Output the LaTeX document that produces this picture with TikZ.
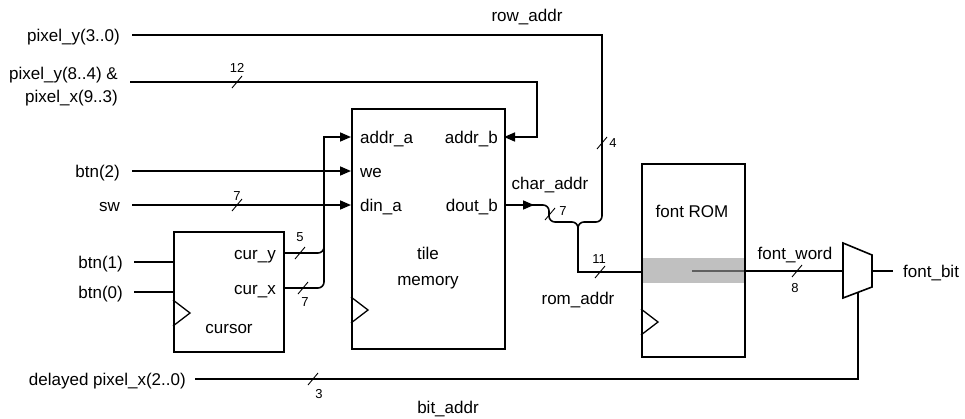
\documentclass[tikz,border=0pt]{standalone}
\usepackage{fontspec}
\setmainfont{Liberation Sans}
\usetikzlibrary{arrows.meta}
\definecolor{band}{RGB}{192,192,192}
\definecolor{inner}{RGB}{95,95,95}
\begin{document}
\begin{tikzpicture}[x=1pt,y=-1pt,
  lbl/.style={inner sep=0pt, font=\fontsize{17}{19}\selectfont, text height=12pt, text depth=0pt},
  num/.style={inner sep=0pt, font=\fontsize{13}{15}\selectfont},
  wire/.style={line width=1.6pt},
  box/.style={draw, line width=1.6pt, inner sep=0pt, anchor=north west},
  arr/.style={-{Triangle[length=11pt,width=9pt]}},
  bus/.style={line width=0.9pt},
  clk/.style={line width=1.3pt}]
\path[use as bounding box] (0,0) rectangle (965,418);

% ---------- blocks ----------
\node[box, minimum width=153pt, minimum height=240pt] (tile) at (351,108) {};
\node[box, minimum width=110pt, minimum height=120pt] (cursor) at (173,231) {};
\fill[band] (641,258) rectangle (744,283);
\node[box, minimum width=103pt, minimum height=193pt] (rom) at (641,163) {};
\draw[wire] (843,243) -- (872,255) -- (872,287) -- (843,298) -- cycle;
\coordinate (muxin) at (843,271);
\coordinate (muxout) at (872,271);
\coordinate (muxsel) at (858,292.3);

% clock triangles
\draw[clk] (351,297) -- (368,310) -- (351,323);
\draw[clk] (173,300) -- (190,313) -- (173,326);
\draw[clk] (641,309) -- (658,322) -- (641,335);

% port coordinates
\coordinate (addrA) at (351,137);
\coordinate (we) at (351,171);
\coordinate (dinA) at (351,205);
\coordinate (addrB) at (504,137);
\coordinate (doutB) at (504,205);
\coordinate (curY) at (283,253);
\coordinate (curX) at (283,288);
\coordinate (romin) at (641,272);
\coordinate (romout) at (744,271);

% ---------- block texts ----------
\node[lbl, anchor=west] (taddrA) at (360,137) {addr\_a};
\node[lbl, anchor=west] (twe) at (360,171) {we};
\node[lbl, anchor=west] (tdinA) at (360,205) {din\_a};
\node[lbl, anchor=east] (taddrB) at (498,137) {addr\_b};
\node[lbl, anchor=east] (tdoutB) at (498,205) {dout\_b};
\node[lbl] (ttile) at (428,253) {tile};
\node[lbl] (tmem) at (428,279) {memory};
\node[lbl, anchor=east] (tcury) at (276,253) {cur\_y};
\node[lbl, anchor=east] (tcurx) at (276,288) {cur\_x};
\node[lbl] (tcursor) at (229,327) {cursor};
\node[lbl] (trom) at (692,211) {font ROM};

% ---------- input labels ----------
\node[lbl, anchor=east] (lpy) at (120,35) {pixel\_y(3..0)};
\node[inner sep=0pt, font=\fontsize{17}{23}\selectfont, align=right, anchor=east] (lpx) at (118,87) {pixel\_y(8..4) \&\\pixel\_x(9..3)};
\node[lbl, anchor=east] (lb2) at (120,171) {btn(2)};
\node[lbl, anchor=east] (lsw) at (120,205) {sw};
\node[lbl, anchor=east] (lb1) at (123,262) {btn(1)};
\node[lbl, anchor=east] (lb0) at (123,292) {btn(0)};
\node[lbl, anchor=east] (ldel) at (186,379) {delayed pixel\_x(2..0)};
\node[lbl, anchor=west] (lfb) at (903,271) {font\_bit};

% ---------- signal names ----------
\node[lbl] (nrow) at (527,15) {row\_addr};
\node[lbl] (nchar) at (550,183) {char\_addr};
\node[lbl] (nrom) at (578,298) {rom\_addr};
\node[lbl] (nfw) at (795,253) {font\_word};
\node[lbl] (nbit) at (448,407) {bit\_addr};

% ---------- wires ----------
\draw[wire] ([xshift=12pt]lpy.east) -- (602,35) -- (602,200);
\draw[wire, rounded corners=6pt] (602,190) -- (602,222) -- (578,222) -- (578,245);
\draw[wire, arr] ([xshift=12pt]lpx.east |- 0,82) -- (537,82) -- (537,137) -- (addrB);
\draw[wire, arr] ([xshift=12pt]lb2.east) -- (we);
\draw[wire, arr] ([xshift=12pt]lsw.east) -- (dinA);
\draw[wire] ([xshift=11pt]lb1.east) -- (cursor.west |- lb1);
\draw[wire] ([xshift=11pt]lb0.east) -- (cursor.west |- lb0);
\draw[wire, rounded corners=6pt] (curY) -- (324,253) -- (324,235);
\draw[wire, rounded corners=6pt] (curX) -- (324,288) -- (324,262);
\draw[wire, arr] (324,272) -- (324,137) -- (addrA);
\draw[wire, arr] (doutB) -- (534,205);
\draw[wire, rounded corners=6pt] (526,205) -- (549,205) -- (549,222) -- (578,222) -- (578,245);
\draw[wire] (578,235) -- (578,272) -- (romin);
\draw[line width=1.8pt, inner] (692,271) -- (romout);
\draw[wire] (romout) -- (muxin);
\draw[wire] (muxout) -- ([xshift=-10pt]lfb.west);
\draw[wire] (muxsel) -- (858,379) -- ([xshift=9pt]ldel.east);

% ---------- bus width marks ----------
\draw[bus] (232,88) -- (242,76);  \node[num] (w12) at (237,68) {12};
\draw[bus] (232,211) -- (242,199); \node[num] (w7a) at (237,196) {7};
\draw[bus] (295,259) -- (305,247); \node[num] (w5) at (300,237) {5};
\draw[bus] (298,294) -- (308,282); \node[num] (w7b) at (305,302) {7};
\draw[bus] (597,149) -- (607,137); \node[num] (w4) at (613,143) {4};
\draw[bus] (545,220) -- (555,208); \node[num] (w7c) at (563,211) {7};
\draw[bus] (595,278) -- (605,266); \node[num] (w11) at (599,259) {11};
\draw[bus] (792,277) -- (802,265); \node[num] (w8) at (795,288) {8};
\draw[bus] (308,385) -- (318,373); \node[num] (w3) at (319,394) {3};
\end{tikzpicture}
\end{document}
